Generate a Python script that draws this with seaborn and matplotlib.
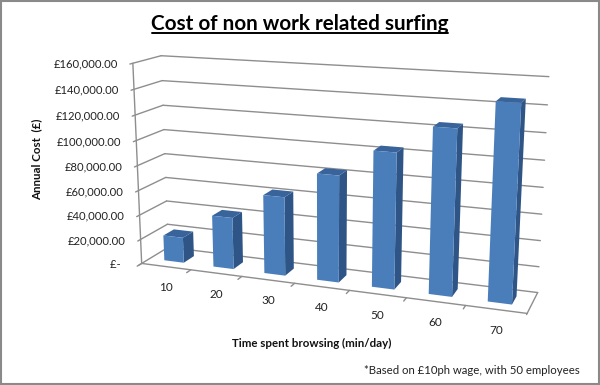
import numpy as np
import matplotlib
matplotlib.use('Agg')
import matplotlib.pyplot as plt
import seaborn as sns
from matplotlib.patches import Polygon, Rectangle
from matplotlib.transforms import Affine2D, Transform

minutes = ['10', '20', '30', '40', '50', '60', '70']
annual_cost = [20800, 41700, 62500, 83300, 104200, 125000, 145800]
y_ticks = [0, 20000, 40000, 60000, 80000, 100000, 120000, 140000, 160000]
y_labels = ['£-  ', '£20,000.00', '£40,000.00', '£60,000.00', '£80,000.00',
            '£100,000.00', '£120,000.00', '£140,000.00', '£160,000.00']

W, H = 600, 385
YMAX = 160000
BLUE = '#4a7ebb'
SIDE = '#2f5587'
TOP = '#38639b'
GRID = '#8e8e8e'
TXT = '#222222'

# where the 3d box sits in the picture: (x, value, depth) -> pixel, used to fit the projection
frame = [(-0.5, 0, 0, 143, 262), (-0.5, YMAX, 0, 132, 63), (-0.5, 0, 1, 167, 249),
         (-0.5, YMAX, 1, 162, 56), (6.5, 0, 1, 538, 291), (6.5, YMAX, 1, 549, 77),
         (6.5, 0, 0, 527, 315), (2.5, 0, 0, 295, 283), (4.5, 0, 0, 406, 298),
         (-0.5, 80000, 0, 137, 166), (-0.5, 80000, 1, 165, 153), (6.5, 80000, 1, 543, 187)]

rows = []
for fx, fy, fz, px, py in frame:
    p = [fx, fy / YMAX, fz, 1]
    rows.append(p + [0, 0, 0, 0] + [-px * c for c in p])
    rows.append([0, 0, 0, 0] + p + [-py * c for c in p])
P = np.linalg.svd(np.array(rows, dtype=float))[2][-1].reshape(3, 4)


def to_picture(x, y, z):
    h = np.column_stack([x, np.asarray(y) / YMAX, np.full(len(x), z), np.ones(len(x))])
    q = h @ P.T
    return q[:, 0] / q[:, 2], q[:, 1] / q[:, 2]


class Proj(Transform):
    # takes seaborn's bar coordinates at a fixed depth to display pixels
    input_dims = 2
    output_dims = 2
    is_affine = False

    def __init__(self, z=0.0):
        super().__init__()
        self.z = z

    def transform_non_affine(self, values):
        v = np.asarray(values, dtype=float)
        px, py = to_picture(v[:, 0], v[:, 1], self.z)
        return np.column_stack([px, H - py])


def project(x, y, z):
    px, py = to_picture(np.array([x]), np.array([y]), z)
    return px[0], py[0]


sns.set_theme(style='white')
plt.rcParams['font.family'] = ['Lato', 'DejaVu Sans']

fig = plt.figure(figsize=(W / 100, H / 100), dpi=100)
ax = fig.add_axes([0, 0, 1, 1])
sns.barplot(x=minutes, y=annual_cost, width=0.4, color=BLUE, saturation=1, linewidth=0, ax=ax)
ax.set_xlim(-0.5, 6.5)
ax.set_ylim(0, YMAX)
ax.axis('off')
pix = Affine2D().scale(1, -1).translate(0, H)


def seg(a, b):
    ax.add_line(plt.Line2D([a[0], b[0]], [a[1], b[1]], color=GRID, lw=1, zorder=1, transform=pix))


# walls and floor
for v in y_ticks:
    seg(project(-0.5, v, 1), project(6.5, v, 1))
    seg(project(-0.5, v, -0.1), project(-0.5, v, 1))
seg(project(-0.5, 0, 0), project(-0.5, YMAX, 0))
seg(project(-0.5, 0, 0), project(6.5, 0, 0))
seg(project(6.5, 0, -0.05), project(6.5, 0, 1))
for i in range(len(minutes)):
    seg(project(i - 0.5, 0, 0), project(i - 0.5, 0, -0.16))

# bars: seaborn's rectangles are the front faces, the side and top are added behind them
Z0, Z1 = 0.3, 0.7
for bar in list(ax.patches):
    x0, x1, h = bar.get_x(), bar.get_x() + bar.get_width(), bar.get_height()
    bar.set_transform(Proj(Z0))
    bar.set_clip_on(False)
    bar.set_zorder(4)
    side = [project(x1, 0, Z0), project(x1, 0, Z1), project(x1, h, Z1), project(x1, h, Z0)]
    top = [project(x0, h, Z0), project(x1, h, Z0), project(x1, h, Z1), project(x0, h, Z1)]
    for pts, col in ((side, SIDE), (top, TOP)):
        ax.add_patch(Polygon(pts, closed=True, facecolor=col, edgecolor='none', transform=pix, zorder=3))

# labels
for v, lab in zip(y_ticks, y_labels):
    px, py = project(-0.5, v, 0)
    ax.text(px - 15, py + 1, lab, transform=pix, ha='right', va='center', fontsize=8.1, color=TXT)
for i, lab in enumerate(minutes):
    px, py = project(i, 0, 0)
    ax.text(px, py + 21, lab, transform=pix, ha='center', va='center', fontsize=8.5, color=TXT)

ax.text(300, 24, 'Cost of non work related surfing', transform=pix, ha='center', va='center',
        fontsize=14.9, fontweight='bold', color='black')
ax.add_line(plt.Line2D([152, 448], [32.5, 32.5], color='black', lw=1.4, transform=pix))
ax.text(37, 159, 'Annual Cost  (£)', transform=pix, rotation=90, ha='center', va='center',
        fontsize=8.3, fontweight='bold', color='#111111')
ax.text(312, 343, 'Time spent browsing (min/day)', transform=pix, ha='center', va='center',
        fontsize=8.3, fontweight='bold', color='#111111')
ax.text(580, 370, '*Based on £10ph wage, with 50 employees', transform=pix, ha='right', va='center',
        fontsize=8.2, color=TXT)

# grey picture border
fig.add_artist(Rectangle((0.5, 0.5), W - 2, H - 2, fill=False, edgecolor='#8a8a8a', lw=1.5,
                         transform=pix))

fig.savefig('out.png', dpi=100, facecolor='white')
